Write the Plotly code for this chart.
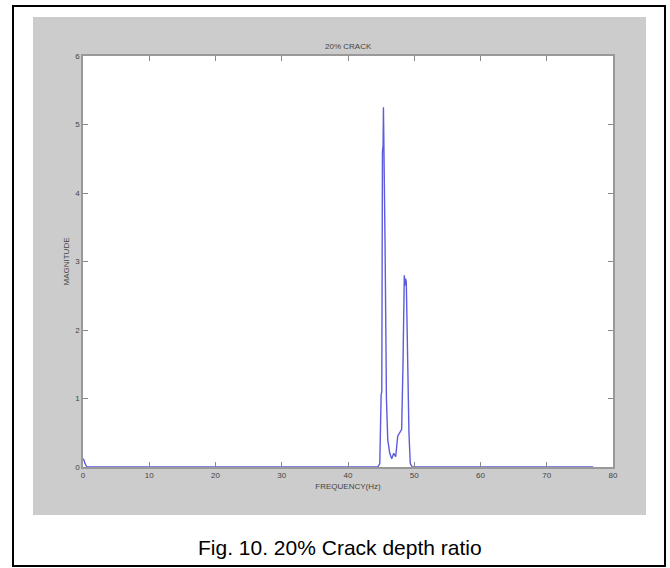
import plotly.graph_objects as go

# Data
freq = [0.0, 0.15, 0.3, 0.6, 44.5, 44.8, 45.0, 45.1, 45.2, 45.3, 45.35, 45.45, 45.6, 45.8, 46.0,
        46.3, 46.6, 46.9, 47.2, 47.5, 47.8, 48.1, 48.3, 48.5, 48.6, 48.7, 48.8, 49.0, 49.2, 49.4, 49.7, 77.0]
magnitude = [0.12, 0.1, 0.05, 0.0, 0.0, 0.05, 1.05, 1.1, 4.6, 4.7, 5.25, 4.65, 3.2, 1.0, 0.4,
             0.2, 0.12, 0.2, 0.15, 0.45, 0.5, 0.55, 1.5, 2.8, 2.65, 2.75, 2.7, 1.5, 0.5, 0.05, 0.0, 0.0]
x_ticks = [0, 10, 20, 30, 40, 50, 60, 70, 80]
y_ticks = [0, 1, 2, 3, 4, 5, 6]

W, H = 670, 568
L, R, T, B = 83, 613, 56, 467
pw, ph = R - L, B - T

def px(x):
    return (x - L) / pw

def py(y):
    return (B - y) / ph

fig = go.Figure()
fig.add_trace(go.Scatter(x=freq, y=magnitude, mode="lines",
                         line=dict(color="#5c5cdc", width=1.4), showlegend=False))

shapes = [
    dict(type="rect", xref="paper", yref="paper", x0=px(13), x1=px(665), y0=py(566), y1=py(6),
         line=dict(color="black", width=2), fillcolor="white", layer="below"),
    dict(type="rect", xref="paper", yref="paper", x0=px(33), x1=px(646), y0=py(515), y1=py(17),
         line=dict(width=0), fillcolor="#cccccc", layer="below"),
    dict(type="rect", xref="x domain", yref="y domain", x0=0, x1=1, y0=0, y1=1,
         line=dict(width=0), fillcolor="white", layer="below"),
]

axis_font = dict(family="Liberation Sans, Arial, sans-serif", size=8, color="#444444")

fig.update_layout(
    width=W, height=H,
    margin=dict(l=L, r=W - R, t=T, b=H - B, pad=0),
    paper_bgcolor="white", plot_bgcolor="white",
    shapes=shapes,
    xaxis=dict(range=[0, 80], tickvals=x_ticks, ticks="inside", ticklen=5, tickcolor="#888888",
               showline=True, linecolor="#999999", linewidth=1.5, mirror="ticks",
               showgrid=False, zeroline=False, tickfont=axis_font,
               title=dict(text="FREQUENCY(Hz)", font=axis_font, standoff=4)),
    yaxis=dict(range=[0, 6], tickvals=y_ticks, ticks="inside", ticklen=5, tickcolor="#888888",
               showline=True, linecolor="#999999", linewidth=1.5, mirror="ticks",
               showgrid=False, zeroline=False, tickfont=axis_font,
               title=dict(text="MAGNITUDE", font=axis_font, standoff=4)),
    annotations=[
        dict(text="20% CRACK", xref="paper", yref="paper", x=0.5, y=py(47), showarrow=False,
             font=axis_font, xanchor="center", yanchor="middle"),
        dict(text="Fig. 10. 20% Crack depth ratio", xref="paper", yref="paper", x=px(340), y=py(547),
             showarrow=False, xanchor="center", yanchor="middle",
             font=dict(family="Liberation Sans, Arial, sans-serif", size=21, color="black")),
    ],
)

fig.write_html("out.html")
